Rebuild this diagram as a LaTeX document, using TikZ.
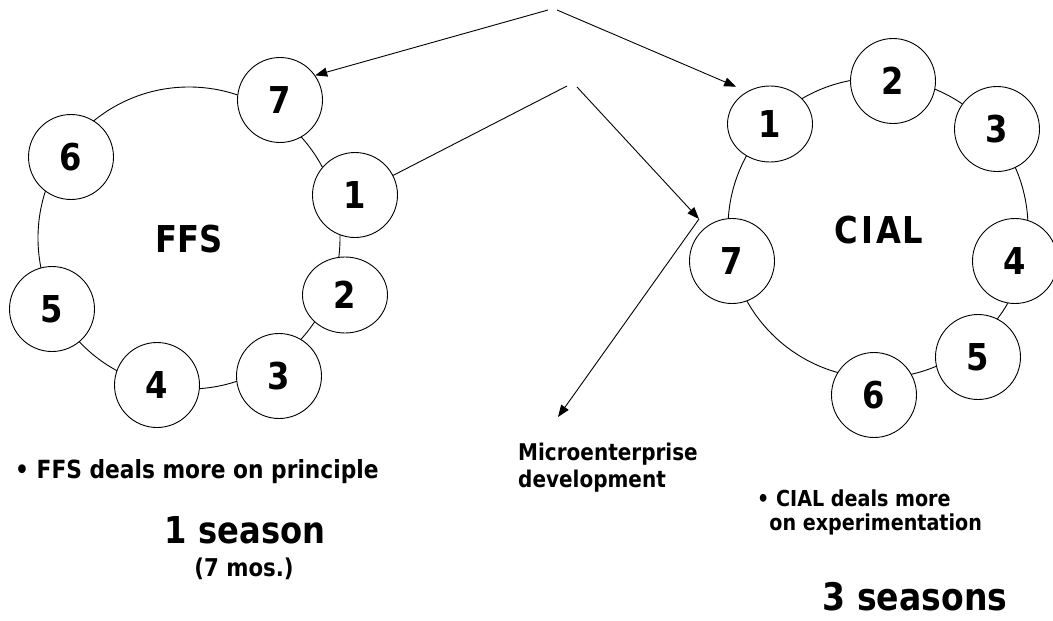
\documentclass[tikz,border=0pt]{standalone}
\usepackage{fontspec}
\setmainfont{DejaVu Sans}[FakeStretch=0.87]
\usetikzlibrary{arrows.meta,shapes.geometric}

\begin{document}
\begin{tikzpicture}[x=1pt,y=-1pt,
	stage/.style={shape=circle,draw=black,fill=white,line width=0.9pt,minimum size=85pt,inner sep=0pt,font=\bfseries\fontsize{37}{40}\selectfont},
	flatstage/.style={stage,shape=ellipse,minimum width=85pt,minimum height=76pt},
	ring/.style={draw=black,line width=0.9pt},
	arr/.style={-{Triangle[length=12pt,width=9pt]},line width=0.9pt},
	wire/.style={line width=0.9pt},
	lbl/.style={inner sep=0pt,font=\bfseries\fontsize{23}{27}\selectfont}]
	\useasboundingbox (0,0) rectangle (1053,621);

	\draw[ring] (189,238) circle (151pt);
	\draw[ring] (878,228) circle (150pt);

	\node[stage] (l7) at (280, 100)     {7};
	\node[stage] (l6) at (71, 157)      {6};
	\node[stage] (l1) at (355, 195)     {1};
	\node[flatstage] (l2) at (345, 295) {2};
	\node[stage] (l3) at (279, 376)     {3};
	\node[stage] (l4) at (157, 385)     {4};
	\node[stage] (l5) at (52, 309)      {5};

	\node[flatstage] (r1) at (770, 124) {1};
	\node[stage] (r2) at (893, 81)      {2};
	\node[stage] (r3) at (997, 129)     {3};
	\node[stage] (r4) at (1015, 261)    {4};
	\node[stage] (r5) at (978, 357)     {5};
	\node[stage] (r6) at (874, 395)     {6};
	\node[stage] (r7) at (732, 261)     {7};

	\node[lbl,font=\bfseries\fontsize{37}{40}\selectfont] (ffs) at (189, 239)  {FFS};
	\node[lbl,font=\bfseries\fontsize{37}{40}\selectfont] (cial) at (879, 230) {C\kern3pt I\kern3pt A\kern2pt L};

	\coordinate (src1) at (548, 10);
	\coordinate (src2) at (557, 10);
	\coordinate (bend1) at (567, 86);
	\coordinate (bend2) at (577, 87);
	\coordinate (turn) at (699, 219);
	\coordinate (microtip) at (558, 417);

	\path[arr] (src1) edge (l7.35);
	\path[arr] (src2) edge [shorten >=12pt] (r1.125);
	\path[wire] (l1) edge (bend1);
	\path[arr] (bend2) edge (turn);
	\path[arr] (turn) edge (microtip);

	\node[lbl,anchor=base west,font=\bfseries\fontsize{25}{28}\selectfont] (ffsnote) at (15, 478) {\textbullet\ FFS deals more on principle};
	\node[lbl,anchor=base,font=\bfseries\fontsize{37}{40}\selectfont] (oneseason) at (245, 543) {1 season};
	\node[lbl,anchor=base,font=\bfseries\fontsize{24.5}{27}\selectfont] (months) at (244, 576) {(7 mos.)};
	\node[lbl,anchor=north west,align=left] (micro) at (518, 443) {Microenterprise\\development};
	\node[lbl,anchor=north west,align=left,font=\bfseries\fontsize{22}{24}\selectfont] (cialnote) at (757, 490) {\textbullet\ CIAL deals more\\\phantom{\textbullet}on experimentation};
	\node[lbl,anchor=base,font=\bfseries\fontsize{38}{40}\selectfont] (threeseasons) at (915, 610) {3 seasons};
\end{tikzpicture}
\end{document}
